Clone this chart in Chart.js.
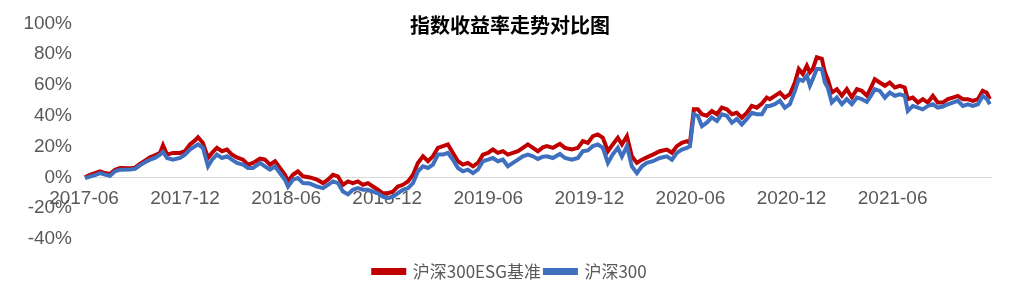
<!DOCTYPE html>
<html lang="zh-CN">
<head>
<meta charset="utf-8">
<title>指数收益率走势对比图</title>
<script src="https://cdn.jsdelivr.net/npm/chart.js@4.4.1/dist/chart.umd.min.js"></script>
<style>
    html, body { margin: 0; padding: 0; background: #fff; }
    .wrap { position: relative; width: 1020px; height: 288px; }
    .title {
        position: absolute; left: 0; top: 12px; width: 1020px;
        text-align: center; font: bold 20px "Noto Sans CJK SC", sans-serif;
        line-height: 26px; color: #000;
    }
</style>
</head>
<body>
<div class="wrap">
    <canvas id="chart" width="1020" height="288"></canvas>
    <div class="title">指数收益率走势对比图</div>
</div>
<script>
// Données : position en mois depuis 2017-06, rendement en %
const monthPos = [
    0.06, 0.36, 0.65, 0.95, 1.25, 1.54, 1.84, 2.14, 2.73, 3.03, 3.32, 3.62, 3.92, 4.21, 4.51, 4.69,
    4.93, 5.28, 5.70, 5.99, 6.29, 6.59, 6.77, 7.06, 7.36, 7.60, 7.89, 8.19, 8.49, 8.78, 9.08, 9.44,
    9.73, 10.03, 10.45, 10.74, 11.04, 11.34, 11.63, 11.93, 12.11, 12.40, 12.70, 13.00, 13.41, 13.83,
    14.19, 14.48, 14.78, 15.07, 15.37, 15.67, 15.96, 16.26, 16.56, 16.85, 17.15, 17.45, 17.74, 18.04,
    18.34, 18.63, 18.93, 19.23, 19.53, 19.82, 20.12, 20.42, 20.71, 21.01, 21.31, 21.60, 21.90, 22.20,
    22.49, 22.79, 23.09, 23.38, 23.68, 23.98, 24.27, 24.57, 24.87, 25.16, 25.46, 25.76, 26.05, 26.35,
    26.65, 26.94, 27.24, 27.48, 27.83, 28.25, 28.55, 28.96, 29.32, 29.61, 29.91, 30.21, 30.50, 30.80,
    31.10, 31.39, 31.69, 31.93, 32.23, 32.52, 32.82, 33.12, 33.41, 33.77, 34.18, 34.60, 34.90, 35.19,
    35.49, 35.79, 35.97, 36.20, 36.44, 36.68, 36.97, 37.27, 37.57, 37.86, 38.16, 38.46, 38.75, 39.05,
    39.35, 39.64, 39.94, 40.24, 40.53, 40.71, 41.01, 41.31, 41.60, 41.90, 42.20, 42.43, 42.67, 42.91,
    43.09, 43.26, 43.50, 43.80, 43.98, 44.15, 44.39, 44.69, 44.99, 45.28, 45.58, 45.88, 46.17, 46.47,
    46.77, 46.94, 47.24, 47.54, 47.83, 48.13, 48.43, 48.72, 48.90, 49.20, 49.50, 49.79, 50.09, 50.39,
    50.68, 50.98, 51.28, 51.57, 51.87, 52.17, 52.47, 52.76, 53.06, 53.35, 53.59, 53.77
];

const esgReturn = [
    0.0, 1.7, 2.8, 3.9, 2.8, 2.2, 5.0, 6.1, 6.0, 6.3, 8.7, 10.9, 13.0, 14.4, 15.9, 20.9,
    14.8, 15.9, 15.9, 17.0, 21.4, 24.0, 26.1, 22.4, 12.6, 15.9, 19.2, 17.0, 18.1, 14.8, 13.0, 11.5,
    8.3, 9.4, 12.2, 11.5, 8.3, 10.5, 6.1, 1.7, -2.6, 1.7, 3.9, 0.7, 0.0, -1.5,
    -3.7, -1.5, 1.7, 0.7, -4.8, -2.6, -3.7, -2.6, -4.8, -3.7, -5.9, -8.0, -10.3, -10.3,
    -9.2, -5.9, -4.8, -2.6, 1.7, 9.4, 13.7, 10.5, 13.7, 19.2, 20.3, 21.4, 15.9, 10.5,
    8.3, 9.4, 7.2, 9.4, 14.8, 15.9, 18.1, 15.9, 17.0, 14.8, 15.9, 17.0, 19.2, 21.4,
    19.2, 17.0, 19.5, 20.3, 19.2, 21.8, 19.2, 18.1, 19.2, 23.5, 22.4, 26.8, 27.9, 25.7,
    17.0, 21.4, 25.7, 21.4, 26.8, 13.7, 9.4, 11.5, 13.0, 14.8, 17.0, 18.1, 16.0, 20.3,
    22.4, 23.5, 22.4, 44.2, 44.2, 41.0, 40.0, 43.1, 41.0, 45.3, 44.2, 41.0, 42.0, 38.8,
    42.0, 46.4, 45.3, 48.0, 51.8, 50.8, 52.9, 55.1, 51.8, 54.0, 61.6, 70.4, 67.1, 72.5,
    68.2, 70.4, 78.0, 77.0, 68.2, 63.8, 55.1, 57.3, 53.0, 57.3, 52.0, 57.3, 56.2, 53.0,
    59.5, 63.8, 61.6, 59.5, 61.6, 58.4, 59.5, 58.4, 50.8, 51.8, 48.6, 50.8, 48.6, 52.9,
    48.6, 48.6, 50.8, 51.8, 52.9, 50.8, 50.8, 49.7, 50.8, 56.2, 55.0, 50.8
];

const hs300Return = [
    -0.5, 0.5, 1.5, 2.8, 1.8, 1.0, 4.0, 5.0, 5.2, 5.5, 7.8, 9.8, 11.5, 12.6, 14.8, 16.5,
    12.6, 11.5, 12.6, 14.8, 18.1, 20.3, 21.4, 19.2, 7.2, 11.5, 14.8, 12.6, 13.7, 11.5, 9.4, 8.3,
    6.1, 6.1, 9.4, 7.2, 5.0, 7.2, 2.8, -1.5, -5.9, -1.5, -0.4, -3.7, -4.0, -5.9,
    -7.0, -4.8, -2.6, -3.7, -9.2, -11.0, -8.0, -7.0, -8.0, -8.0, -9.2, -10.3, -12.5, -13.5,
    -12.5, -10.3, -8.0, -7.0, -3.7, 3.9, 7.2, 6.1, 8.3, 14.8, 14.8, 15.9, 11.5, 6.1,
    3.9, 5.0, 2.8, 5.0, 10.5, 11.5, 12.6, 10.5, 11.5, 7.2, 9.4, 11.5, 13.7, 14.8,
    13.7, 12.0, 13.5, 13.7, 12.6, 15.2, 12.6, 11.5, 12.6, 17.0, 17.5, 20.3, 21.4, 19.2,
    9.4, 15.0, 19.2, 13.5, 20.3, 7.2, 2.8, 7.2, 9.4, 10.5, 12.6, 13.7, 11.5, 15.9,
    18.1, 19.2, 20.3, 41.0, 39.9, 33.3, 35.5, 39.0, 36.6, 41.0, 40.0, 35.5, 38.0, 34.4,
    38.0, 42.0, 41.0, 41.0, 46.4, 46.4, 47.5, 49.7, 45.3, 47.5, 56.2, 63.8, 62.7, 66.0,
    59.5, 63.8, 70.4, 70.4, 61.6, 58.4, 48.6, 51.8, 47.5, 50.8, 47.5, 51.8, 50.8, 49.0,
    54.0, 57.3, 56.2, 51.8, 55.1, 53.0, 54.0, 53.0, 43.1, 46.4, 45.3, 44.2, 46.4, 47.5,
    45.3, 46.0, 47.5, 48.6, 49.7, 46.4, 47.5, 46.4, 47.5, 52.9, 51.0, 47.5
];

const tickMonths = [0, 6, 12, 18, 24, 30, 36, 42, 48];
const tickLabels = ['2017-06', '2017-12', '2018-06', '2018-12', '2019-06', '2019-12', '2020-06', '2020-12', '2021-06'];

const seriesNames = ['沪深300ESG基准', '沪深300'];
const seriesColors = ['#C00000', '#3F70C0'];

const toPoints = (vals) => monthPos.map((m, i) => ({ x: m, y: vals[i] }));

const axisFont = { family: '"Liberation Sans", Arial, sans-serif', size: 19 };

new Chart(document.getElementById('chart'), {
    type: 'line',
    data: {
        datasets: [
            {
                label: seriesNames[0],
                data: toPoints(esgReturn),
                borderColor: seriesColors[0],
                backgroundColor: seriesColors[0],
                borderWidth: 4,
                pointRadius: 0,
                order: 2
            },
            {
                label: seriesNames[1],
                data: toPoints(hs300Return),
                borderColor: seriesColors[1],
                backgroundColor: seriesColors[1],
                borderWidth: 4,
                pointRadius: 0,
                order: 1
            }
        ]
    },
    options: {
        responsive: false,
        animation: false,
        layout: { padding: { top: 13, right: 18, left: 18, bottom: -2 } },
        plugins: {
            title: { display: false },
            tooltip: { enabled: false },
            legend: {
                position: 'bottom',
                title: { display: true, text: '', font: { size: 10 }, padding: { top: 8, bottom: 0 } },
                labels: {
                    boxWidth: 31,
                    boxHeight: 3,
                    padding: 4,
                    color: '#595959',
                    font: { family: '"Noto Sans CJK SC", sans-serif', size: 17 },
                    sort: (a, b) => a.datasetIndex - b.datasetIndex
                }
            }
        },
        scales: {
            x: {
                type: 'linear',
                position: { y: 0 },
                min: 0,
                max: 53.9,
                afterBuildTicks: (scale) => {
                    scale.ticks = tickMonths.map(v => ({ value: v }));
                },
                afterFit: (scale) => { scale.height = 0; },
                grid: { display: false, drawTicks: false },
                border: { display: false },
                ticks: {
                    autoSkip: false,
                    maxRotation: 0,
                    padding: 10,
                    color: '#595959',
                    font: axisFont,
                    callback: (value, index) => tickLabels[index]
                }
            },
            y: {
                min: -40,
                max: 100,
                afterFit: (scale) => { scale.width = 66; },
                grid: {
                    drawTicks: false,
                    color: (ctx) => (ctx.tick && ctx.tick.value === 0 ? '#D9D9D9' : 'rgba(0,0,0,0)'),
                    lineWidth: 1
                },
                border: { display: false },
                ticks: {
                    stepSize: 20,
                    padding: 12,
                    color: '#595959',
                    font: axisFont,
                    callback: (v) => v + '%'
                }
            },
            // marge droite, pour garder la légende centrée sur la page
            yRight: {
                position: 'right',
                afterFit: (scale) => { scale.width = 10; },
                grid: { display: false, drawTicks: false },
                border: { display: false },
                ticks: { display: false }
            }
        }
    }
});
</script>
</body>
</html>
